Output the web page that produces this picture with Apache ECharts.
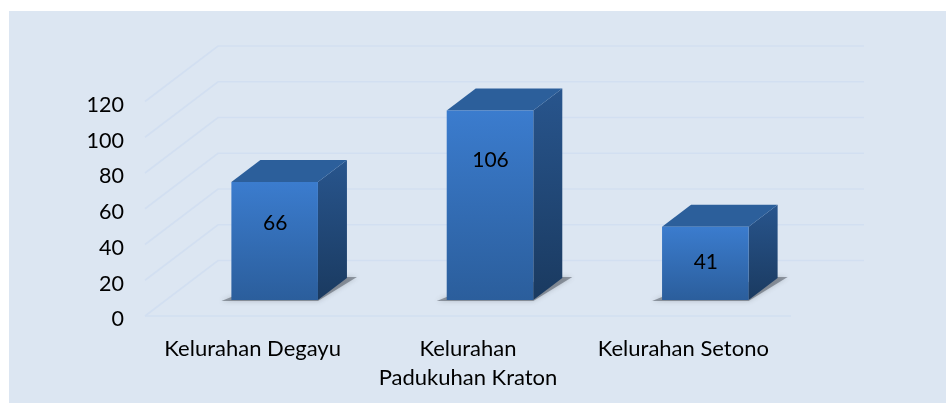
<!DOCTYPE html>
<html>
<head>
<meta charset="utf-8">
<style>html,body{margin:0;padding:0;background:#fff}#c{width:946px;height:403px}</style>
<script src="https://cdn.jsdelivr.net/npm/echarts@6/dist/echarts.min.js"></script>
</head>
<body>
<div id="c"></div>
<script>
const categories = ['Kelurahan Degayu', 'Kelurahan\nPadukuhan Kraton', 'Kelurahan Setono'];
const values = [66, 106, 41];
const ticks = [0, 20, 40, 60, 80, 100, 120];

const WALL_DX = 73, WALL_DY = 55.5;
const BASE_DX = 22, BASE_DY = 16;
const BAR_DX = 29, BAR_DY = 22, BAR_FRAC = 0.402;
const FONT = 'Lato, "Open Sans", sans-serif';
const gridColor = '#d2dff1';

const chart = echarts.init(document.getElementById('c'), null, {renderer: 'canvas'});

function renderWall(params, api) {
  const t = api.value(1);
  const w = api.size([1, 0])[0];
  const p = api.coord([0, t]);
  const x0 = p[0] - w / 2, y = p[1];
  const x1 = x0 + w * 3;
  const style = {stroke: gridColor, lineWidth: 1.6, fill: null};
  const children = [{
    type: 'polyline',
    shape: {points: [[x0, y], [x0 + WALL_DX, y - WALL_DY], [x1 + WALL_DX, y - WALL_DY]]},
    style: style, silent: true
  }];
  if (t === 0) {
    children.push({type: 'line', shape: {x1: x0, y1: y, x2: x1, y2: y}, style: style, silent: true});
  }
  return {type: 'group', children: children};
}

function renderBar(params, api) {
  const i = api.value(0), v = api.value(1);
  const w = api.size([1, 0])[0] * BAR_FRAC;
  const b = api.coord([i, 0]), t = api.coord([i, v]);
  const xl = b[0] + BASE_DX - w / 2, xr = xl + w;
  const yb = b[1] - BASE_DY, yt = t[1] - BASE_DY;
  const grad = (a, c) => ({type: 'linear', x: 0, y: 0, x2: 0, y2: 1,
    colorStops: [{offset: 0, color: a}, {offset: 1, color: c}]});
  const labelY = yt + 26 + 0.22 * v;
  return {type: 'group', children: [
    {type: 'polygon', silent: true,
      shape: {points: [[xl - 10, yb + 1], [xr, yb + 1], [xr + BAR_DX + 10, yb - BAR_DY - 1],
        [xr + BAR_DX, yb - BAR_DY - 1], [xl, yb - 3]]},
      style: {fill: 'rgba(70,75,85,0.5)', shadowBlur: 5, shadowColor: 'rgba(70,75,85,0.55)'}},
    {type: 'polygon', silent: true,
      shape: {points: [[xr, yt], [xr + BAR_DX, yt - BAR_DY], [xr + BAR_DX, yb - BAR_DY], [xr, yb]]},
      style: {fill: grad('#28558d', '#1a3a60')}},
    {type: 'polygon', silent: true,
      shape: {points: [[xl, yt], [xl + BAR_DX, yt - BAR_DY], [xr + BAR_DX, yt - BAR_DY], [xr, yt]]},
      style: {fill: '#2c5f9b'}},
    {type: 'rect', silent: true,
      shape: {x: xl, y: yt, width: w, height: yb - yt},
      style: {fill: grad('#3b7cce', '#2b5e9c')}},
    {type: 'text', silent: true, x: (xl + xr) / 2 + 0.5, y: labelY + 0.5,
      style: {text: String(v), fill: '#000', font: '21px ' + FONT, align: 'center', verticalAlign: 'middle'}}
  ]};
}

chart.setOption({
  animation: false,
  backgroundColor: '#ffffff',
  graphic: [{type: 'rect', z: -10, silent: true,
    shape: {x: 9, y: 11, width: 937, height: 392}, style: {fill: '#dce6f2'}}],
  grid: {left: 145, right: 155, top: 101.5, bottom: 87},
  xAxis: {
    type: 'category', data: categories,
    axisLine: {show: false}, axisTick: {show: false}, splitLine: {show: false},
    axisLabel: {color: '#000', fontFamily: FONT, fontSize: 22, lineHeight: 29, margin: 18, interval: 0}
  },
  yAxis: {
    type: 'value', min: 0, max: 120, interval: 20,
    axisLine: {show: false}, axisTick: {show: false}, splitLine: {show: false},
    axisLabel: {color: '#000', fontFamily: FONT, fontSize: 21.5, margin: 21, verticalAlign: 'top', lineHeight: 7}
  },
  series: [
    {type: 'custom', z: 1, silent: true, clip: false, renderItem: renderWall,
      data: ticks.map(t => [0, t])},
    {type: 'custom', z: 2, silent: true, clip: false, renderItem: renderBar,
      data: values.map((v, i) => [i, v])}
  ]
});
</script>
</body>
</html>
